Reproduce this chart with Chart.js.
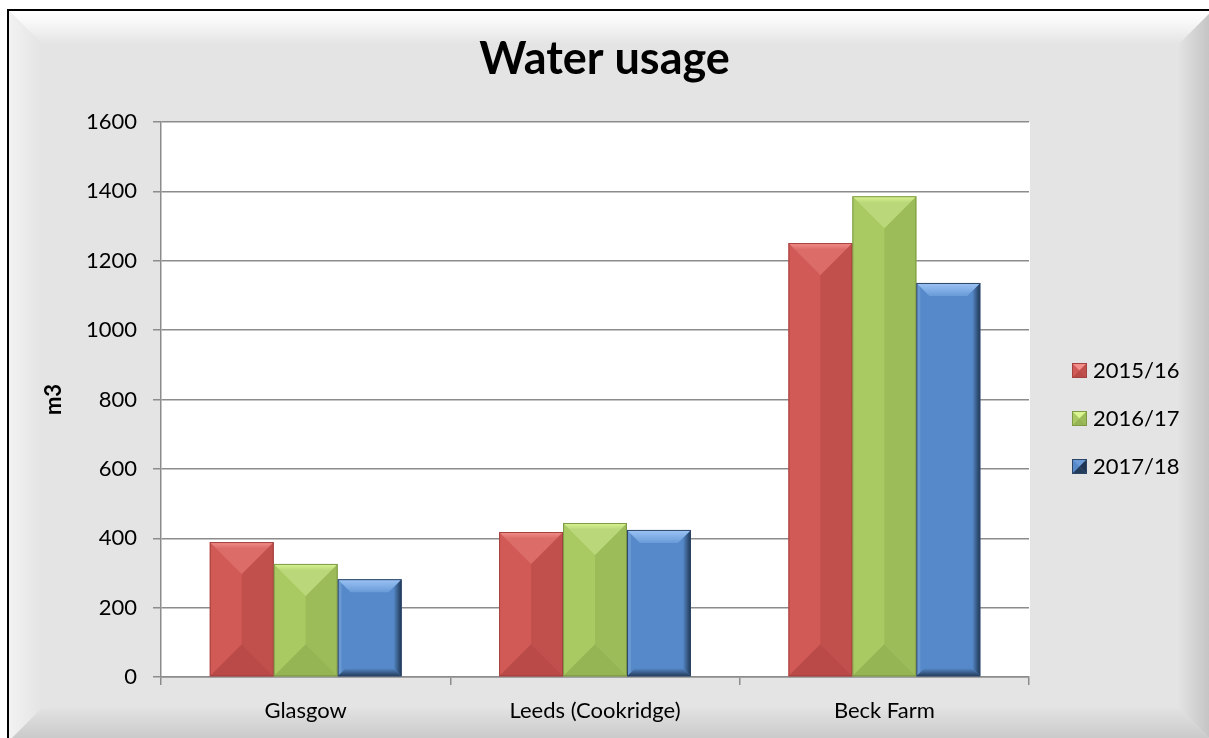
<!DOCTYPE html>
<html>
<head>
<meta charset="utf-8">
<title>Water usage</title>
<script src="https://cdn.jsdelivr.net/npm/chart.js@4.4.1/dist/chart.umd.min.js"></script>
<style>
  html, body { margin: 0; padding: 0; background: #fff; }
  #wrap { width: 1209px; height: 738px; position: relative; }
</style>
</head>
<body>
<div id="wrap"><canvas id="waterChart"></canvas></div>
<script>
// data (m3)
const sites = ['Glasgow', 'Leeds (Cookridge)', 'Beck Farm'];
const years = ['2015/16', '2016/17', '2017/18'];
const usage1516 = [389, 418, 1251];
const usage1617 = [326, 444, 1386];
const usage1718 = [282, 424, 1136];
const yMin = 0;
const yMax = 1600;
const yStep = 200;

// look of each series (bevelled office style)
const looks = [
  { face: '#d25a56', right: '#c1504c', bottom: '#b94a47', top1: '#f28f8a', top2: '#dc6c68', edge: '#a4423f', kind: 'angle' },
  { face: '#a9c963', right: '#9cbc59', bottom: '#95b454', top1: '#daf592', top2: '#bad879', edge: '#7e9a45', kind: 'angle' },
  { face: '#5589c9', right: '#1f3551', bottom: '#243b59', top1: '#9cc4f5', top2: '#6a9bd8', edge: '#2c4466', kind: 'frame' }
];

const FONT = 'Lato';
const GRID = '#8c8c8c';

const poly = (ctx, pts, fill) => {
  ctx.beginPath();
  ctx.moveTo(pts[0][0], pts[0][1]);
  for (let i = 1; i < pts.length; i++) ctx.lineTo(pts[i][0], pts[i][1]);
  ctx.closePath();
  ctx.fillStyle = fill;
  ctx.fill();
};

const bevelBar = (ctx, l, t, r, b, lk) => {
  const w = r - l;
  const cx = l + w / 2;
  if (lk.kind === 'angle') {
    const d = Math.min(w / 2, (b - t) / 2);
    poly(ctx, [[cx, t + d], [r, t], [r, b], [cx, b - d]], lk.right);
    let g = ctx.createLinearGradient(0, t, 0, t + d);
    g.addColorStop(0, lk.top1);
    g.addColorStop(0.2, lk.top2);
    g.addColorStop(1, lk.top2);
    poly(ctx, [[l, t], [r, t], [cx, t + d]], g);
    poly(ctx, [[l, b], [r, b], [cx, b - d]], lk.bottom);
  } else {
    const bw = 13, sw = 8;
    let g = ctx.createLinearGradient(r - sw, 0, r, 0);
    g.addColorStop(0, lk.face);
    g.addColorStop(1, lk.right);
    poly(ctx, [[r, t], [r, b], [r - sw, b - sw], [r - sw, t + sw]], g);
    g = ctx.createLinearGradient(0, b - sw, 0, b);
    g.addColorStop(0, lk.face);
    g.addColorStop(1, lk.bottom);
    poly(ctx, [[l, b], [r, b], [r - sw, b - sw], [l + sw, b - sw]], g);
    g = ctx.createLinearGradient(0, t, 0, t + bw);
    g.addColorStop(0, lk.top1);
    g.addColorStop(1, lk.top2);
    poly(ctx, [[l, t], [r, t], [r - bw, t + bw], [l + bw, t + bw]], g);
    poly(ctx, [[l, t], [l + 4, t + 4], [l + 4, b - 4], [l, b]], 'rgba(255,255,255,0.12)');
  }
  ctx.lineWidth = 1;
  ctx.strokeStyle = lk.edge;
  ctx.strokeRect(l + 0.5, t + 0.5, w - 1, b - t - 1);
};

const bevelBox = (ctx, x, y, s, lk) => {
  const c = [x + s / 2, y + s / 2];
  ctx.fillStyle = lk.face;
  ctx.fillRect(x, y, s, s);
  poly(ctx, [[x, y], [x + s, y], c], lk.kind === 'angle' ? lk.top1 : lk.top2);
  poly(ctx, [[x + s, y], [x + s, y + s], c], lk.right);
  poly(ctx, [[x, y + s], [x + s, y + s], c], lk.bottom);
  ctx.lineWidth = 1;
  ctx.strokeStyle = lk.edge;
  ctx.strokeRect(x + 0.5, y + 0.5, s - 1, s - 1);
};

// grey bevelled frame behind everything, white plot area
const framePlugin = {
  id: 'frame',
  beforeDraw(chart) {
    const ctx = chart.ctx;
    const W = chart.width, H = chart.height;
    const L = 9, T = 11, R = W + 3, B = H + 3, bw = 33;
    ctx.save();
    ctx.fillStyle = '#ffffff';
    ctx.fillRect(0, 0, W, H);
    ctx.fillStyle = '#e4e4e4';
    ctx.fillRect(L, T, R - L, B - T);

    let g = ctx.createLinearGradient(0, T, 0, T + bw);
    g.addColorStop(0, '#ffffff');
    g.addColorStop(0.3, '#f9f9f9');
    g.addColorStop(1, '#e4e4e4');
    poly(ctx, [[L, T], [R, T], [R - bw, T + bw], [L + bw, T + bw]], g);

    g = ctx.createLinearGradient(L, 0, L + bw, 0);
    g.addColorStop(0, '#f2f2f2');
    g.addColorStop(1, '#e4e4e4');
    poly(ctx, [[L, T], [L + bw, T + bw], [L + bw, B - bw], [L, B]], g);

    g = ctx.createLinearGradient(R - bw, 0, R, 0);
    g.addColorStop(0, '#e2e2e2');
    g.addColorStop(1, '#c2c2c2');
    poly(ctx, [[R, T], [R, B], [R - bw, B - bw], [R - bw, T + bw]], g);

    g = ctx.createLinearGradient(0, B - bw, 0, B);
    g.addColorStop(0, '#e2e2e2');
    g.addColorStop(1, '#c8c8c8');
    poly(ctx, [[L, B], [R, B], [R - bw, B - bw], [L + bw, B - bw]], g);

    ctx.fillStyle = '#000';
    ctx.fillRect(7, 9, W, 2);
    ctx.fillRect(7, 9, 2, H);

    const a = chart.chartArea;
    ctx.fillStyle = '#ffffff';
    ctx.fillRect(a.left, a.top, a.right - a.left + 1, a.bottom - a.top);
    ctx.restore();
  }
};

// bevel overlays on top of the bars chart.js drew
const bevelPlugin = {
  id: 'bevel',
  afterDatasetsDraw(chart) {
    const ctx = chart.ctx;
    ctx.save();
    chart.data.datasets.forEach((ds, i) => {
      const meta = chart.getDatasetMeta(i);
      meta.data.forEach(bar => {
        const p = bar.getProps(['x', 'y', 'base', 'width'], true);
        bevelBar(ctx, p.x - p.width / 2, p.y, p.x + p.width / 2, p.base, looks[i]);
      });
    });
    ctx.restore();
  }
};

// legend on the right, like the original
const sideLegend = {
  id: 'sideLegend',
  afterDraw(chart) {
    const ctx = chart.ctx;
    const a = chart.chartArea;
    const n = chart.data.datasets.length;
    const mid = (a.top + a.bottom) / 2 + 18.5;
    ctx.save();
    ctx.font = '22px ' + FONT;
    ctx.textBaseline = 'middle';
    chart.data.datasets.forEach((ds, i) => {
      const cy = mid + (i - (n - 1) / 2) * 48;
      const bx = a.right + 43;
      bevelBox(ctx, bx, cy - 7, 15, looks[i]);
      ctx.fillStyle = '#000';
      ctx.fillText(ds.label, bx + 21, cy + 1);
    });
    ctx.restore();
  }
};

const seriesValues = [usage1516, usage1617, usage1718];

new Chart(document.getElementById('waterChart'), {
  type: 'bar',
  data: {
    labels: sites,
    datasets: years.map((yr, i) => ({
      label: yr,
      data: seriesValues[i],
      backgroundColor: looks[i].face,
      borderWidth: 0,
      categoryPercentage: 0.663,
      barPercentage: 1.0
    }))
  },
  options: {
    responsive: true,
    maintainAspectRatio: false,
    animation: false,
    layout: { padding: { left: 0, right: 0, top: 0, bottom: 0 } },
    plugins: {
      legend: { display: false },
      tooltip: { enabled: false },
      title: {
        display: true,
        text: 'Water usage',
        color: '#000',
        font: { family: FONT, size: 45, weight: 'bold' },
        padding: { top: 32, bottom: 36 }
      }
    },
    scales: {
      x: {
        ticks: { color: '#000', font: { family: FONT, size: 22 }, padding: 13 },
        grid: { drawOnChartArea: false, drawTicks: true, tickLength: 8, color: GRID, lineWidth: 1.5, offset: true },
        border: { color: GRID, width: 1.5 },
        afterFit(scale) { scale.height = 61; }
      },
      y: {
        min: yMin,
        max: yMax,
        ticks: {
          stepSize: yStep,
          color: '#000',
          font: { family: FONT, size: 22 },
          padding: 16,
          callback: v => String(v)
        },
        grid: { color: GRID, lineWidth: 1.5, tickLength: 8 },
        border: { color: GRID, width: 1.5 },
        title: {
          display: true,
          text: 'm3',
          color: '#000',
          font: { family: FONT, size: 22, weight: 'bold' },
          padding: { top: 41, bottom: 0 }
        },
        afterFit(scale) { scale.width = 161; }
      },
      // empty right-hand strip that leaves room for the legend
      side: {
        type: 'linear',
        position: 'right',
        display: true,
        ticks: { display: false },
        grid: { display: false },
        border: { display: false },
        afterFit(scale) { scale.width = 180; }
      }
    }
  },
  plugins: [framePlugin, bevelPlugin, sideLegend]
});
</script>
</body>
</html>
